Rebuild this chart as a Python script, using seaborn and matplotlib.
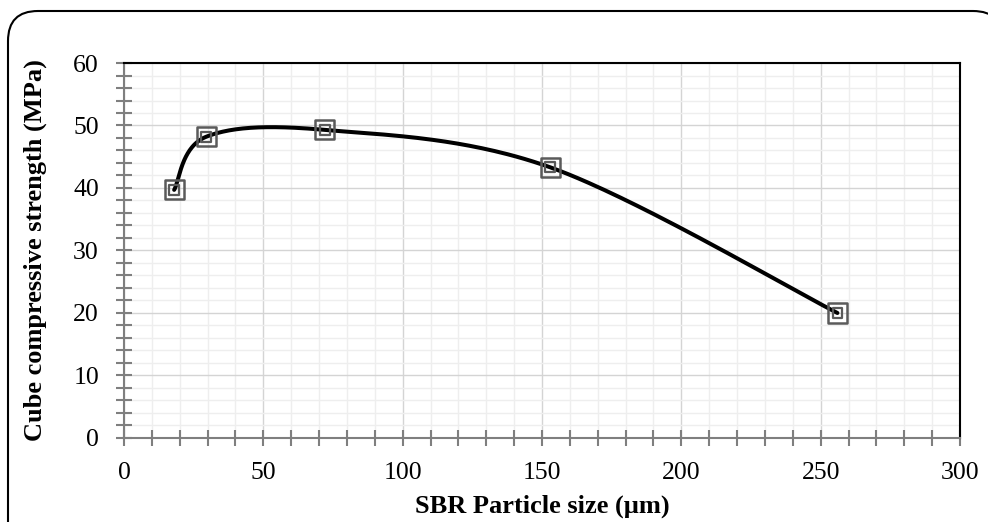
import numpy as np
import pandas as pd
import matplotlib
matplotlib.use("Agg")
import matplotlib.pyplot as plt
import seaborn as sns
from matplotlib.path import Path
from matplotlib.patches import PathPatch
from matplotlib.ticker import MultipleLocator

# Data
particle_size = [18, 29.5, 72, 153, 256]
strength = [39.7, 48.2, 49.3, 43.3, 20.0]
x_ticks = [0, 50, 100, 150, 200, 250, 300]
y_ticks = [0, 10, 20, 30, 40, 50, 60]

sns.set_theme(style="white")
plt.rcParams['font.family'] = ['Liberation Serif', 'DejaVu Serif']

fig = plt.figure(figsize=(9.88, 5.22), dpi=100)
ax = fig.add_axes([0.1255, 0.161, 0.8462, 0.7183])

# Excel-style smoothed line (Bezier through points)
P = np.column_stack([particle_size, strength]).astype(float)
n = len(P)
ext = np.vstack([P[0], P, P[-1]])
curve = []
t = np.linspace(0, 1, 60)[:, None]
for i in range(n - 1):
    p0, p1 = ext[i + 1], ext[i + 2]
    c1 = p0 + (ext[i + 2] - ext[i]) / 6.0
    c2 = p1 - (ext[i + 3] - ext[i + 1]) / 6.0
    seg = (1 - t) ** 3 * p0 + 3 * (1 - t) ** 2 * t * c1 + 3 * (1 - t) * t ** 2 * c2 + t ** 3 * p1
    curve.append(seg if i == 0 else seg[1:])
curve = np.vstack(curve)
df_curve = pd.DataFrame({"x": curve[:, 0], "y": curve[:, 1]})
df_pts = pd.DataFrame({"x": particle_size, "y": strength})

# grid
ax.xaxis.set_major_locator(MultipleLocator(50))
ax.xaxis.set_minor_locator(MultipleLocator(10))
ax.yaxis.set_major_locator(MultipleLocator(10))
ax.yaxis.set_minor_locator(MultipleLocator(2))
ax.grid(which="major", color="#d4d4d4", lw=1.0, zorder=0)
ax.grid(which="minor", color="#eeeeee", lw=1.0, zorder=0)
ax.set_axisbelow(True)

sns.lineplot(data=df_curve, x="x", y="y", sort=False, color="black", lw=2.9, ax=ax, zorder=3)
sns.scatterplot(data=df_pts, x="x", y="y", marker="s", s=190, facecolor="none",
                edgecolor="#5a5a5a", linewidth=1.8, ax=ax, zorder=4)
sns.scatterplot(data=df_pts, x="x", y="y", marker="s", s=50, facecolor="none",
                edgecolor="#5a5a5a", linewidth=1.6, ax=ax, zorder=4)

ax.set_xlim(0, 300)
ax.set_ylim(0, 60)
ax.set_xticks(x_ticks)
ax.set_yticks(y_ticks)
ax.set_xticklabels([str(v) for v in x_ticks])
ax.set_yticklabels([str(v) for v in y_ticks])

for side in ["left", "bottom"]:
    ax.spines[side].set_color("#7f7f7f")
    ax.spines[side].set_linewidth(1.5)
for side in ["top", "right"]:
    ax.spines[side].set_color("black")
    ax.spines[side].set_linewidth(1.5)

ax.tick_params(which="both", direction="inout", color="#7f7f7f", width=1.5,
               length=12, labelsize=18.5, labelcolor="black", bottom=True, left=True)
ax.tick_params(axis="y", which="both", pad=12)
ax.tick_params(axis="x", which="both", pad=11)

ax.set_xlabel("SBR Particle size (µm)", fontsize=19, fontweight="bold", color="black", labelpad=8)
ax.set_ylabel("Cube compressive strength (MPa)", fontsize=19, fontweight="bold", color="black", labelpad=19)

# rounded figure border (pixel coordinates, origin bottom-left)
H = 522
r = 30
L, T, R = 8, H - 11, 1003
verts = [(L, -20), (L, T - r), (L, T), (L + r, T), (R - r, T), (R, T), (R, T - r), (R, -20)]
codes = [Path.MOVETO, Path.LINETO, Path.CURVE3, Path.CURVE3, Path.LINETO,
         Path.CURVE3, Path.CURVE3, Path.LINETO]
border = PathPatch(Path(verts, codes), transform=None, fill=False, edgecolor="black", lw=1.5)
fig.patches.append(border)

fig.savefig("out.png", dpi=100)
